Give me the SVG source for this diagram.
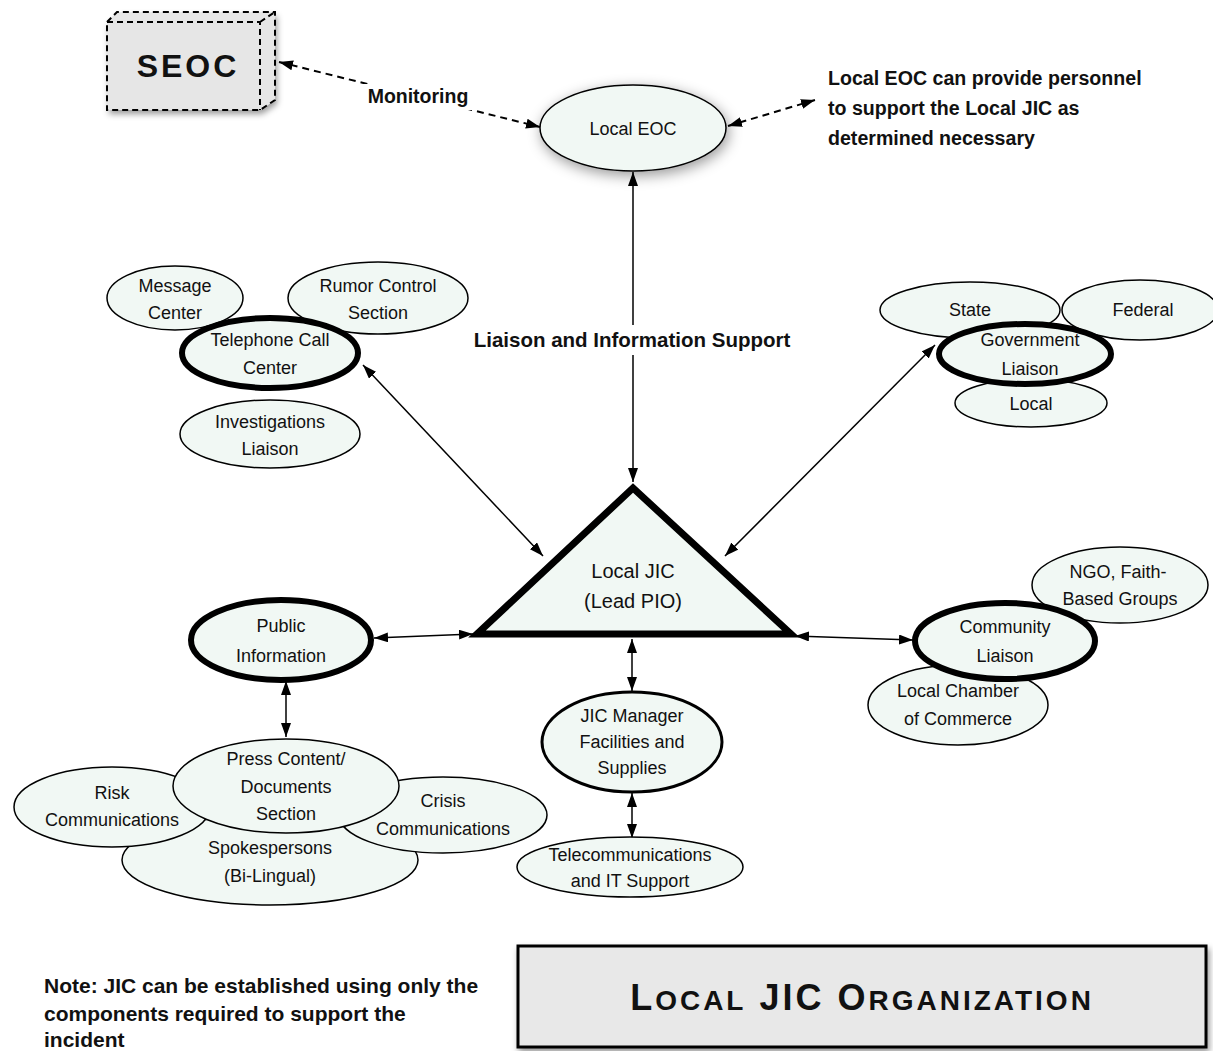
<svg xmlns="http://www.w3.org/2000/svg" width="1213" height="1051" viewBox="0 0 1213 1051">
<style>
.n{fill:#f1f8f4;stroke:#000;stroke-width:1.5}
.k{fill:#f1f8f4;stroke:#000;stroke-width:6}
.t{font-family:"Liberation Sans",Arial,sans-serif;font-size:18px;text-anchor:middle;fill:#111}
.b{font-family:"Liberation Sans",Arial,sans-serif;font-size:18px;font-weight:bold;fill:#111}
.c{stroke:#000;stroke-width:1.5;fill:none;marker-start:url(#a);marker-end:url(#a)}
.d{stroke:#000;stroke-width:2;fill:none;stroke-dasharray:7 5;marker-start:url(#a);marker-end:url(#a)}
</style>
<defs>
<marker id="a" viewBox="0 0 14 10" refX="14" refY="5" markerWidth="14" markerHeight="10" markerUnits="userSpaceOnUse" orient="auto-start-reverse"><path d="M0,0 L14,5 L0,10 z" fill="#000"/></marker>
<filter id="sh" x="-30%" y="-40%" width="160%" height="180%"><feDropShadow dx="2" dy="4" stdDeviation="7" flood-color="#000" flood-opacity="0.4"/></filter>
<filter id="sh2" x="-10%" y="-20%" width="120%" height="150%"><feDropShadow dx="2" dy="4" stdDeviation="3" flood-color="#000" flood-opacity="0.4"/></filter>
</defs>
<rect width="1213" height="1051" fill="#fff"/>

<g id="connectors">
<line class="d" x1="279" y1="62" x2="540" y2="127"/>
<line class="d" x1="728" y1="126" x2="815" y2="100"/>
<line class="c" x1="633" y1="172" x2="633" y2="482"/>
<line class="c" x1="363" y1="365" x2="543" y2="556"/>
<line class="c" x1="935" y1="345" x2="725" y2="556"/>
<line class="c" x1="374" y1="638" x2="473" y2="634"/>
<line class="c" x1="795" y1="636" x2="913" y2="640"/>
<line class="c" x1="632" y1="639" x2="632" y2="691"/>
<line class="c" x1="632" y1="793" x2="632" y2="838"/>
<line class="c" x1="286" y1="681" x2="286" y2="737"/>
</g>

<g id="seoc">
<g filter="url(#sh2)">
<path d="M107,22 L117,12 L275,12 L275,100 L260,110 L107,110 z" fill="#e6e6e6"/>
</g>
<path d="M107,22 L117,12 L275,12 L275,100 L260,110 L107,110 z M107,22 L260,22 L260,110 M260,22 L275,12" fill="none" stroke="#000" stroke-width="2" stroke-dasharray="6 4"/>
<text x="188" y="77" font-family="'Liberation Sans',Arial,sans-serif" font-weight="bold" font-size="32" letter-spacing="3" text-anchor="middle" fill="#111">SEOC</text>
</g>

<g id="monitoring-label"><rect x="362" y="84" width="112" height="26" fill="#fff"/><text class="b" x="418" y="103" text-anchor="middle" style="font-size:19.5px">Monitoring</text></g>

<g id="local-eoc">
<ellipse cx="633" cy="128" rx="93" ry="43" class="n" filter="url(#sh)"/>
<text class="t" x="633" y="135">Local EOC</text>
</g>

<g id="eoc-note" style="font-size:19.6px">
<text class="b" x="828" y="85" style="font-size:19.6px">Local EOC can provide personnel</text>
<text class="b" x="828" y="115" style="font-size:19.6px">to support the Local JIC as</text>
<text class="b" x="828" y="145" style="font-size:19.6px">determined necessary</text>
</g>

<g id="liaison-label"><rect x="470" y="325" width="324" height="30" fill="#fff"/><text class="b" x="632" y="347" text-anchor="middle" style="font-size:20.5px">Liaison and Information Support</text></g>

<g id="message-center"><ellipse cx="175" cy="298" rx="68" ry="32" class="n"/><text class="t" x="175" y="292">Message</text><text class="t" x="175" y="319">Center</text></g>
<g id="rumor-control"><ellipse cx="378" cy="298" rx="90" ry="36" class="n"/><text class="t" x="378" y="292">Rumor Control</text><text class="t" x="378" y="319">Section</text></g>
<g id="investigations"><ellipse cx="270" cy="434" rx="90" ry="34" class="n"/><text class="t" x="270" y="428">Investigations</text><text class="t" x="270" y="455">Liaison</text></g>
<g id="telephone"><ellipse cx="270" cy="353" rx="88" ry="35" class="k"/><text class="t" x="270" y="346">Telephone Call</text><text class="t" x="270" y="374">Center</text></g>

<g id="state"><ellipse cx="970" cy="310" rx="90" ry="28" class="n"/><text class="t" x="970" y="316">State</text></g>
<g id="federal"><ellipse cx="1140" cy="310" rx="78" ry="30" class="n"/><text class="t" x="1143" y="316">Federal</text></g>
<g id="local-gov"><ellipse cx="1031" cy="403" rx="76" ry="24" class="n"/><text class="t" x="1031" y="410">Local</text></g>
<g id="gov-liaison"><ellipse cx="1025" cy="354" rx="86" ry="30" class="k"/><text class="t" x="1030" y="346">Government</text><text class="t" x="1030" y="375">Liaison</text></g>

<g id="local-jic">
<polygon points="633,488 477,634 791,634" fill="#f1f8f4" stroke="#000" stroke-width="7" stroke-linejoin="miter"/>
<text x="633" y="578" font-family="'Liberation Sans',Arial,sans-serif" font-size="20" text-anchor="middle" fill="#111">Local JIC</text>
<text x="633" y="608" font-family="'Liberation Sans',Arial,sans-serif" font-size="20" text-anchor="middle" fill="#111">(Lead PIO)</text>
</g>

<g id="public-info"><ellipse cx="281" cy="640" rx="90" ry="40" class="k"/><text class="t" x="281" y="632">Public</text><text class="t" x="281" y="662">Information</text></g>

<g id="spokespersons"><ellipse cx="270" cy="860" rx="148" ry="45" class="n"/><text class="t" x="270" y="854">Spokespersons</text><text class="t" x="270" y="882">(Bi-Lingual)</text></g>
<g id="risk"><ellipse cx="112" cy="807" rx="98" ry="40" class="n"/><text class="t" x="112" y="799">Risk</text><text class="t" x="112" y="826">Communications</text></g>
<g id="crisis"><ellipse cx="443" cy="815" rx="104" ry="38" class="n"/><text class="t" x="443" y="807">Crisis</text><text class="t" x="443" y="835">Communications</text></g>
<g id="press"><ellipse cx="286" cy="786" rx="113" ry="47" class="n"/><text class="t" x="286" y="765">Press Content/</text><text class="t" x="286" y="793">Documents</text><text class="t" x="286" y="820">Section</text></g>

<g id="jic-manager"><ellipse cx="632" cy="742" rx="90" ry="50" fill="#f1f8f4" stroke="#000" stroke-width="3"/><text class="t" x="632" y="722">JIC Manager</text><text class="t" x="632" y="748">Facilities and</text><text class="t" x="632" y="774">Supplies</text></g>
<g id="telecom"><ellipse cx="630" cy="867" rx="113" ry="30" class="n"/><text class="t" x="630" y="861">Telecommunications</text><text class="t" x="630" y="887">and IT Support</text></g>

<g id="ngo"><ellipse cx="1120" cy="585" rx="88" ry="38" class="n"/><text class="t" x="1118" y="578">NGO, Faith-</text><text class="t" x="1120" y="605">Based Groups</text></g>
<g id="chamber"><ellipse cx="958" cy="705" rx="90" ry="40" class="n"/><text class="t" x="958" y="697">Local Chamber</text><text class="t" x="958" y="725">of Commerce</text></g>
<g id="community"><ellipse cx="1005" cy="641" rx="90" ry="38" class="k"/><text class="t" x="1005" y="633">Community</text><text class="t" x="1005" y="662">Liaison</text></g>

<g id="note">
<text class="b" x="44" y="993" style="font-size:21px">Note: JIC can be established using only the</text>
<text class="b" x="44" y="1021" style="font-size:21px">components required to support the</text>
<text class="b" x="44" y="1047" style="font-size:21px">incident</text>
</g>

<g id="title">
<rect x="518" y="946" width="688" height="101" fill="#e8e8e8" stroke="#000" stroke-width="3" filter="url(#sh2)"/>
<text x="862" y="1010" font-family="'Liberation Sans',Arial,sans-serif" font-weight="bold" font-size="36" text-anchor="middle" fill="#111" letter-spacing="3">L<tspan font-size="28">OCAL</tspan> JIC O<tspan font-size="28">RGANIZATION</tspan></text>
</g>
</svg>
